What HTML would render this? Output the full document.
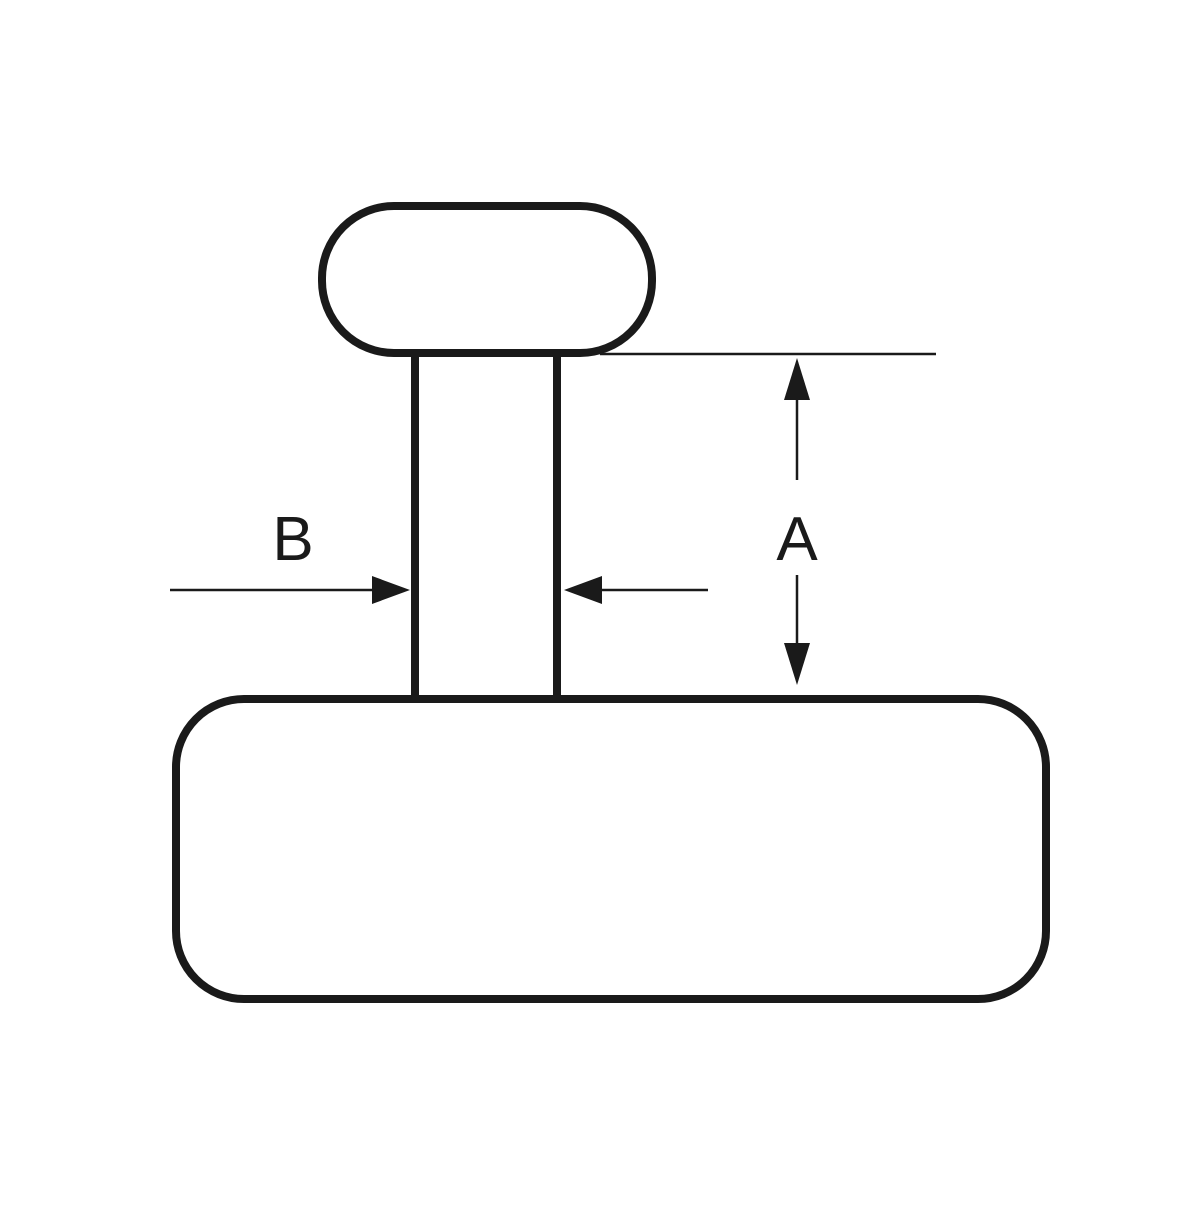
<!DOCTYPE html>
<html><head><meta charset="utf-8"><style>html,body{margin:0;padding:0;background:#fff}</style></head>
<body>
<svg width="1200" height="1200" viewBox="0 0 1200 1200" xmlns="http://www.w3.org/2000/svg">
<rect x="0" y="0" width="1200" height="1200" fill="#fff"/>
<g fill="none" stroke="#1a1a1a" stroke-width="8">
<rect x="322" y="206" width="330" height="147" rx="72" ry="72"/>
<line x1="415" y1="353" x2="415" y2="698"/>
<line x1="557" y1="353" x2="557" y2="698"/>
<rect x="176" y="699" width="870" height="300" rx="68" ry="68"/>
</g>
<g stroke="#1a1a1a" stroke-width="2.5" fill="none">
<line x1="600" y1="354" x2="936" y2="354"/>
<line x1="797" y1="395" x2="797" y2="480"/>
<line x1="797" y1="575" x2="797" y2="650"/>
<line x1="170" y1="590" x2="380" y2="590"/>
<line x1="600" y1="590" x2="708" y2="590"/>
</g>
<g fill="#1a1a1a">
<polygon points="797,358 784,400 810,400"/>
<polygon points="797,685 784,643 810,643"/>
<polygon points="410,590 372,576 372,604"/>
<polygon points="564,590 602,576 602,604"/>
</g>
<g font-family="Liberation Sans, sans-serif" font-size="62" fill="#1a1a1a" text-anchor="middle">
<text x="797" y="560">A</text>
<text x="293" y="560">B</text>
</g>
</svg>
</body></html>
